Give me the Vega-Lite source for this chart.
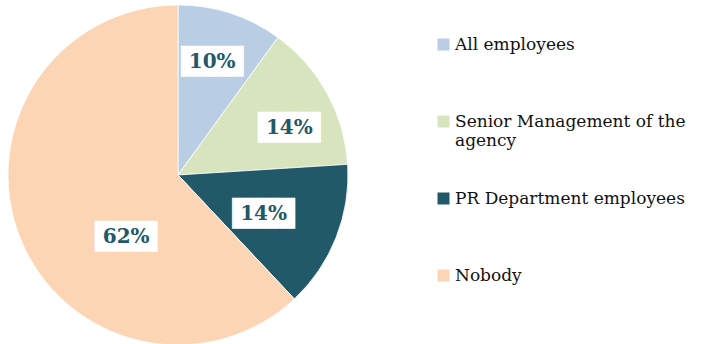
{
  "$schema": "https://vega.github.io/schema/vega-lite/v6.json",
  "width": 356,
  "height": 350,
  "padding": 0,
  "background": "white",
  "data": {"values": [
    {"group": "All employees", "value": 10, "label": "10%", "order": 1},
    {"group": "Senior Management of the agency", "value": 14, "label": "14%", "order": 2},
    {"group": "PR Department employees", "value": 14, "label": "14%", "order": 3},
    {"group": "Nobody", "value": 62, "label": "62%", "order": 4}
  ]},
  "encoding": {
    "theta": {"field": "value", "type": "quantitative", "stack": true},
    "order": {"field": "order", "type": "quantitative"}
  },
  "layer": [
    {
      "mark": {"type": "arc", "radius": 170, "stroke": "white", "strokeWidth": 0.8},
      "encoding": {
        "color": {
          "field": "group", "type": "nominal",
          "scale": {
            "domain": ["All employees", "Senior Management of the agency", "PR Department employees", "Nobody"],
            "range": ["#b9cde5", "#d7e4bd", "#215968", "#fcd5b5"]
          },
          "legend": {
            "title": null,
            "orient": "none",
            "legendX": 435,
            "legendY": 36,
            "symbolType": "square",
            "symbolSize": 144,
            "symbolStrokeWidth": 0,
            "labelFont": "DejaVu Serif",
            "labelFontSize": 17,
            "labelColor": "#111111",
            "labelOffset": 3,
            "labelLimit": 300,
            "gridAlign": "all",
            "rowPadding": 40,
            "labelExpr": "datum.label == 'Senior Management of the agency' ? ['Senior Management of the', 'agency'] : datum.label"
          }
        }
      }
    },
    {
      "mark": {"type": "text", "radius": 118, "thetaOffset": -0.02, "font": "DejaVu Sans Mono", "fontSize": 26, "color": "white", "baseline": "middle", "align": "center"},
      "encoding": {"text": {"condition": {"test": "datum.order == 1", "value": "████"}, "value": ""}}
    },
    {
      "mark": {"type": "text", "radius": 118, "thetaOffset": -0.02, "font": "DejaVu Serif", "fontWeight": "bold", "fontSize": 20, "color": "#215968", "baseline": "middle", "align": "center"},
      "encoding": {"text": {"condition": {"test": "datum.order == 1", "field": "label"}, "value": ""}}
    },
    {
      "mark": {"type": "text", "radius": 121, "thetaOffset": 0.1, "font": "DejaVu Sans Mono", "fontSize": 26, "color": "white", "baseline": "middle", "align": "center"},
      "encoding": {"text": {"condition": {"test": "datum.order == 2", "value": "████"}, "value": ""}}
    },
    {
      "mark": {"type": "text", "radius": 121, "thetaOffset": 0.1, "font": "DejaVu Serif", "fontWeight": "bold", "fontSize": 20, "color": "#215968", "baseline": "middle", "align": "center"},
      "encoding": {"text": {"condition": {"test": "datum.order == 2", "field": "label"}, "value": ""}}
    },
    {
      "mark": {"type": "text", "radius": 94, "thetaOffset": 0.05, "font": "DejaVu Sans Mono", "fontSize": 26, "color": "white", "baseline": "middle", "align": "center"},
      "encoding": {"text": {"condition": {"test": "datum.order == 3", "value": "████"}, "value": ""}}
    },
    {
      "mark": {"type": "text", "radius": 94, "thetaOffset": 0.05, "font": "DejaVu Serif", "fontWeight": "bold", "fontSize": 20, "color": "#215968", "baseline": "middle", "align": "center"},
      "encoding": {"text": {"condition": {"test": "datum.order == 3", "field": "label"}, "value": ""}}
    },
    {
      "mark": {"type": "text", "radius": 81, "thetaOffset": -0.5, "font": "DejaVu Sans Mono", "fontSize": 26, "color": "white", "baseline": "middle", "align": "center"},
      "encoding": {"text": {"condition": {"test": "datum.order == 4", "value": "████"}, "value": ""}}
    },
    {
      "mark": {"type": "text", "radius": 81, "thetaOffset": -0.5, "font": "DejaVu Serif", "fontWeight": "bold", "fontSize": 20, "color": "#215968", "baseline": "middle", "align": "center"},
      "encoding": {"text": {"condition": {"test": "datum.order == 4", "field": "label"}, "value": ""}}
    }
  ]
}
